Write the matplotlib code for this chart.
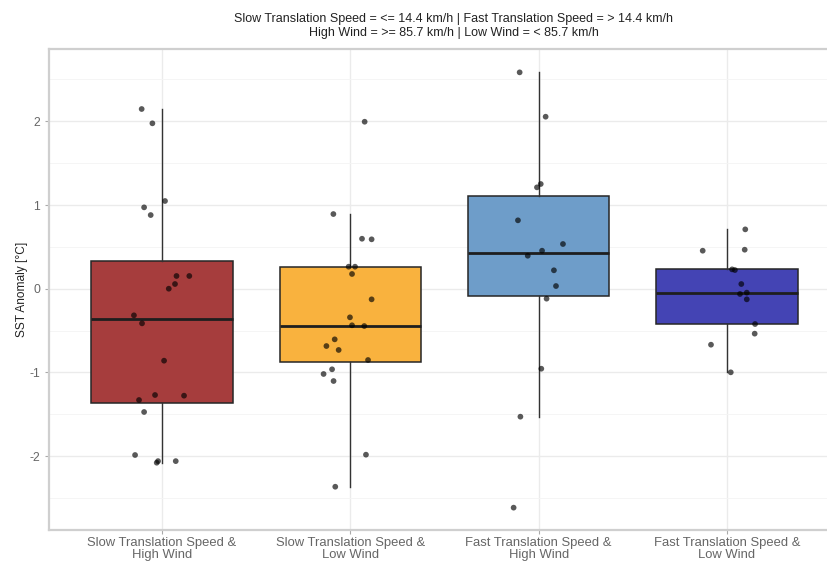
import matplotlib
matplotlib.use("Agg")
import matplotlib.pyplot as plt
from matplotlib.ticker import MultipleLocator

plt.rcParams['font.family'] = ['Liberation Sans', 'DejaVu Sans']

categories = [
    "Slow Translation Speed &\nHigh Wind",
    "Slow Translation Speed &\nLow Wind",
    "Fast Translation Speed &\nHigh Wind",
    "Fast Translation Speed &\nLow Wind",
]
box_colors = ["#A63D3D", "#F9B23E", "#6E9DC9", "#4444B4"]

slow_high = [2.147, 1.976, 1.048, 0.972, 0.880, 0.152, 0.152, 0.056, 0.0, -0.318,
             -0.414, -0.860, -1.270, -1.278, -1.330, -1.473, -1.987, -2.079, -2.06, -2.06]
slow_high_jit = [-0.108, -0.051, 0.016, -0.095, -0.060, 0.077, 0.145, 0.069, 0.036, -0.149,
                 -0.106, 0.011, -0.037, 0.117, -0.122, -0.095, -0.143, -0.028, -0.021, 0.073]

slow_low = [1.995, 0.892, 0.597, 0.590, 0.263, 0.263, 0.176, -0.127, -0.342, -0.437,
            -0.446, -0.605, -0.685, -0.732, -0.852, -0.963, -1.019, -1.103, -1.983, -2.366]
slow_low_jit = [0.076, -0.090, 0.062, 0.113, -0.009, 0.025, 0.009, 0.113, -0.002, 0.009,
                0.074, -0.083, -0.127, -0.062, 0.094, -0.097, -0.142, -0.089, 0.083, -0.080]

fast_high = [2.585, 2.055, 1.251, 1.211, 0.817, 0.534, 0.454, 0.394, 0.220, 0.032,
             -0.119, -0.956, -1.529, -2.616]
fast_high_jit = [-0.101, 0.037, 0.011, -0.009, -0.110, 0.129, 0.018, -0.058, 0.081, 0.092,
                 0.042, 0.014, -0.097, -0.133]

fast_low = [0.709, 0.454, 0.466, 0.231, 0.223, 0.056, -0.063, -0.047, -0.127, -0.422,
            -0.537, -0.669, -0.999]
fast_low_jit = [0.097, -0.129, 0.094, 0.027, 0.042, 0.076, 0.069, 0.105, 0.105, 0.149,
                0.147, -0.085, 0.020]

groups = [slow_high, slow_low, fast_high, fast_low]
jitters = [slow_high_jit, slow_low_jit, fast_high_jit, fast_low_jit]

W, H = 828, 563
fig = plt.figure(figsize=(W / 100, H / 100), dpi=100)
left, right, top, bottom = 49, 840, 49, 530
ax = fig.add_axes([left / W, 1 - bottom / H, (right - left) / W, (bottom - top) / H])

positions = list(range(1, len(groups) + 1))

# grid
ax.set_axisbelow(True)
ax.yaxis.set_major_locator(MultipleLocator(1))
ax.yaxis.set_minor_locator(MultipleLocator(0.5))
ax.grid(which="major", color="#EBEBEB", linewidth=1.0)
ax.grid(which="minor", axis="y", color="#F4F4F4", linewidth=0.6)

bp = ax.boxplot(groups, positions=positions, widths=0.75, patch_artist=True,
                showfliers=False, showcaps=False, whis=1.5,
                boxprops=dict(edgecolor="#262626", linewidth=1.1),
                whiskerprops=dict(color="#333333", linewidth=1.0),
                medianprops=dict(color="#1E1E1E", linewidth=2.0),
                zorder=2)
for patch, c in zip(bp["boxes"], box_colors):
    patch.set_facecolor(c)

for pos, vals, jit in zip(positions, groups, jitters):
    xs = [pos + j for j in jit]
    ax.scatter(xs, vals, s=17, color="black", alpha=0.65, edgecolors="none", zorder=3)

ax.set_xlim(0.4, 4.6)
ax.set_ylim(-2.883, 2.864)
ax.set_xticks(positions)
ax.set_xticklabels(categories, linespacing=1.0)
ax.tick_params(axis="x", which="major", length=3, color="#AAAAAA", labelcolor="#666666",
               labelsize=9.4, pad=2)
ax.tick_params(axis="y", which="major", length=3, color="#AAAAAA", labelcolor="#666666",
               labelsize=8.8)
ax.tick_params(axis="y", which="minor", length=0)
ax.set_yticks([-2, -1, 0, 1, 2])
ax.set_yticklabels(["-2", "-1", "0", "1", "2"])
ax.set_ylabel("SST Anomaly [°C]", fontsize=8.6, color="#222222", labelpad=1)

for s in ax.spines.values():
    s.set_color("#CFCFCF")
    s.set_linewidth(1.6)

fig.text(454 / W, 1 - 19 / H,
         "Slow Translation Speed = <= 14.4 km/h | Fast Translation Speed = > 14.4 km/h",
         ha="center", va="center", fontsize=9, color="#222222")
fig.text(454 / W, 1 - 33 / H,
         "High Wind = >= 85.7 km/h | Low Wind = < 85.7 km/h",
         ha="center", va="center", fontsize=9, color="#222222")

fig.savefig("out.png", dpi=100)
